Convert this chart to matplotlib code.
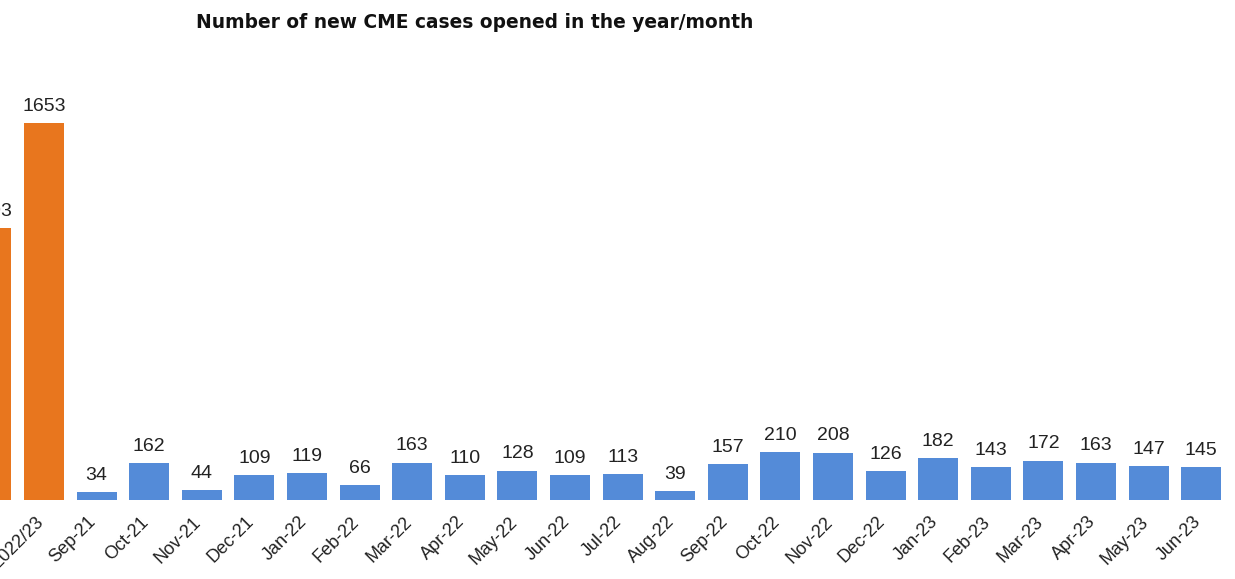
import matplotlib
matplotlib.use("Agg")
import matplotlib.pyplot as plt
from matplotlib.transforms import ScaledTranslation

plt.rcParams['font.family'] = ['Liberation Sans', 'DejaVu Sans']

categories = ["2021/22", "2022/23", "Sep-21", "Oct-21", "Nov-21", "Dec-21", "Jan-22", "Feb-22",
              "Mar-22", "Apr-22", "May-22", "Jun-22", "Jul-22", "Aug-22", "Sep-22", "Oct-22",
              "Nov-22", "Dec-22", "Jan-23", "Feb-23", "Mar-23", "Apr-23", "May-23", "Jun-23"]
values = [1193, 1653, 34, 162, 44, 109, 119, 66, 163, 110, 128, 109, 113, 39, 157, 210, 208,
          126, 182, 143, 172, 163, 147, 145]
is_year = [True, True] + [False] * 22

ORANGE = "#E8761E"
BLUE = "#548BD8"
colors = [ORANGE if y else BLUE for y in is_year]

W, H = 1235, 579
fig = plt.figure(figsize=(W / 100, H / 100), dpi=100)
# axes spans full width; bottom at baseline pixel 500 from top, top at pixel 60
ax = fig.add_axes([0, 79 / H, 1, 440 / H])

x = list(range(len(categories)))
ax.bar(x, values, width=0.76, color=colors)

for xi, v in zip(x, values):
    ax.annotate(str(v), (xi, v), xytext=(0, 6), textcoords="offset points",
                ha="center", va="bottom", fontsize=14, color="#222222",
                annotation_clip=False)

ax.set_xticks(x)
ax.set_xticklabels(categories, rotation=45, ha="right", va="top",
                   rotation_mode="anchor", fontsize=13, color="#222222")
ax.tick_params(axis="x", length=0, pad=6)
shift = ScaledTranslation(-9 / 100, -5 / 100, fig.dpi_scale_trans)
for lab in ax.get_xticklabels():
    lab.set_transform(lab.get_transform() + shift)
ax.set_yticks([])
for s in ax.spines.values():
    s.set_visible(False)

# set limits after ticks so the view is cropped on the left like the reference
ax.set_xlim(1 - 44 / 52.6, 1 + (W - 44) / 52.6)
ax.set_ylim(0, 440 * 1653 / 377)

fig.text(474.5 / W, 1 - 23 / H, "Number of new CME cases opened in the year/month",
         ha="center", va="center", fontsize=13.4, fontweight="bold", color="#111111",
         family="DejaVu Sans")

fig.savefig("out.png", dpi=100)
